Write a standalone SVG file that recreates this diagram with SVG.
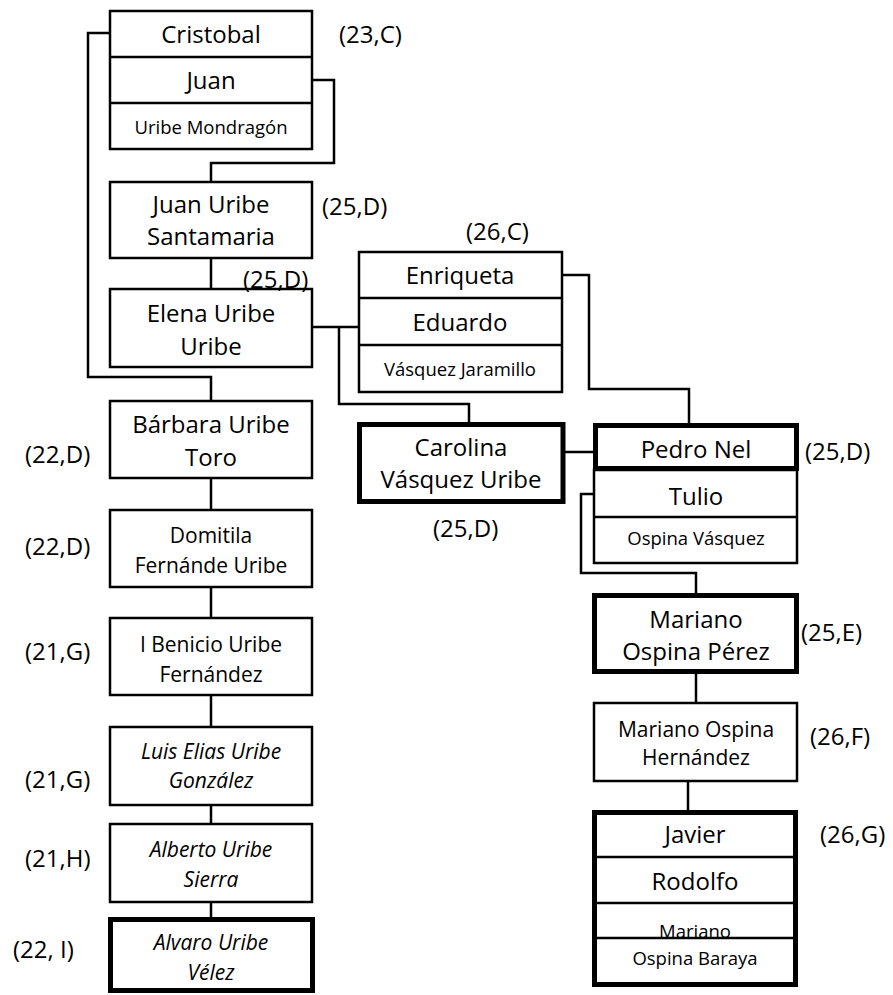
<svg xmlns="http://www.w3.org/2000/svg" width="893" height="995" viewBox="0 0 893 995">
<style>
text{font-family:"Open Sans","Liberation Sans",sans-serif;fill:#000;text-anchor:middle}
.l{font-size:24px}
.m{font-size:21px}
.s{font-size:18.5px}
.i{font-style:italic}
.lab{font-size:24px;text-anchor:start}
.box{fill:#fff;stroke:#000;stroke-width:2.5}
.thick{fill:#fff;stroke:#000;stroke-width:5}
.div{stroke:#000;stroke-width:2.5;fill:none}
.conn path{fill:none;stroke:#000;stroke-width:2.5}
</style>
<rect width="893" height="995" fill="#fff"/>
<g class="conn">
<path d="M110,33 H88 V377 H211 V400"/>
<path d="M311,80 H334 V163 H211 V182"/>
<path d="M211,258 V289"/>
<path d="M311,327 H358"/>
<path d="M339,327 V404 H469 V422"/>
<path d="M562,275 H589 V389 H689 V423"/>
<path d="M565,452 H593"/>
<path d="M211,478 V510"/>
<path d="M211,587 V618"/>
<path d="M211,695 V727"/>
<path d="M211,805 V824"/>
<path d="M211,902 V917"/>
<path d="M594,494 H581 V573 H696 V593"/>
<path d="M696,674 V703"/>
<path d="M688,781 V810"/>
</g>
<g id="cristobal">
<rect class="box" x="110" y="11" width="202" height="138"/>
<path class="div" d="M110,57 H312 M110,103 H312"/>
<text class="l" x="211" y="43">Cristobal</text>
<text class="l" x="211" y="89">Juan</text>
<text class="s" x="211" y="134">Uribe Mondragón</text>
<text class="lab" x="339" y="43">(23,C)</text>
</g>
<g id="juan-uribe-santamaria">
<rect class="box" x="110" y="182" width="202" height="76"/>
<text class="l" x="211" y="213">Juan Uribe</text>
<text class="l" x="211" y="245">Santamaria</text>
<text class="lab" x="322" y="215">(25,D)</text>
</g>
<g id="elena">
<rect class="box" x="110" y="289" width="202" height="78"/>
<text class="l" x="211" y="322">Elena Uribe</text>
<text class="l" x="211" y="355">Uribe</text>
<text class="lab" x="243" y="288">(25,D)</text>
</g>
<g id="enriqueta">
<rect class="box" x="359" y="252" width="203" height="140"/>
<path class="div" d="M359,298 H562 M359,345 H562"/>
<text class="l" x="460" y="284">Enriqueta</text>
<text class="l" x="460" y="331">Eduardo</text>
<text class="s" x="460" y="376">Vásquez Jaramillo</text>
<text class="lab" x="466" y="240">(26,C)</text>
</g>
<g id="carolina">
<rect class="thick" x="359.5" y="424.5" width="203.5" height="77"/>
<text class="l" x="461" y="456">Carolina</text>
<text class="l" x="461" y="488">Vásquez Uribe</text>
<text class="lab" x="433" y="537">(25,D)</text>
</g>
<g id="pedro-nel">
<rect class="box" x="594" y="470" width="203" height="93"/>
<path class="div" d="M594,517 H797"/>
<rect class="thick" x="595.5" y="425.5" width="201" height="43"/>
<text class="l" x="696" y="458">Pedro Nel</text>
<text class="l" x="696" y="505">Tulio</text>
<text class="s" x="696" y="545">Ospina Vásquez</text>
<text class="lab" x="805" y="460">(25,D)</text>
</g>
<g id="barbara">
<rect class="box" x="110" y="401" width="202" height="77"/>
<text class="l" x="211" y="433">Bárbara Uribe</text>
<text class="l" x="211" y="466">Toro</text>
<text class="lab" x="25" y="463">(22,D)</text>
</g>
<g id="domitila">
<rect class="box" x="110" y="510" width="202" height="77"/>
<text class="m" x="211" y="543">Domitila</text>
<text class="m" x="211" y="573">Fernánde Uribe</text>
<text class="lab" x="25" y="555">(22,D)</text>
</g>
<g id="benicio">
<rect class="box" x="110" y="618" width="202" height="77"/>
<text class="m" x="211" y="652">I Benicio Uribe</text>
<text class="m" x="211" y="682">Fernández</text>
<text class="lab" x="25" y="660">(21,G)</text>
</g>
<g id="luis-elias">
<rect class="box" x="110" y="727" width="202" height="78"/>
<text class="m i" x="211" y="759">Luis Elias Uribe</text>
<text class="m i" x="211" y="788">González</text>
<text class="lab" x="25" y="788">(21,G)</text>
</g>
<g id="alberto">
<rect class="box" x="110" y="824" width="202" height="78"/>
<text class="m i" x="211" y="857">Alberto Uribe</text>
<text class="m i" x="211" y="887">Sierra</text>
<text class="lab" x="25" y="867">(21,H)</text>
</g>
<g id="alvaro">
<rect class="thick" x="110.5" y="919.5" width="202" height="71"/>
<text class="m i" x="211" y="950">Alvaro Uribe</text>
<text class="m i" x="211" y="980">Vélez</text>
<text class="lab" x="13" y="958">(22, I)</text>
</g>
<g id="mariano-ospina-perez">
<rect class="thick" x="594.5" y="595.5" width="202" height="76"/>
<text class="l" x="696" y="628">Mariano</text>
<text class="l" x="696" y="660">Ospina Pérez</text>
<text class="lab" x="801" y="641">(25,E)</text>
</g>
<g id="mariano-ospina-hernandez">
<rect class="box" x="594" y="703" width="203" height="78"/>
<text class="m" x="696" y="737">Mariano Ospina</text>
<text class="m" x="696" y="765">Hernández</text>
<text class="lab" x="810" y="745">(26,F)</text>
</g>
<g id="javier">
<rect class="thick" x="594.5" y="812.5" width="201" height="172"/>
<text class="l" x="695" y="843">Javier</text>
<text class="l" x="695" y="890">Rodolfo</text>
<text class="s" x="695" y="938">Mariano</text>
<text class="s" x="695" y="965">Ospina Baraya</text>
<path class="div" d="M596,857 H794 M596,903 H794 M596,938 H794"/>
<text class="lab" x="820" y="843">(26,G)</text>
</g>
</svg>
